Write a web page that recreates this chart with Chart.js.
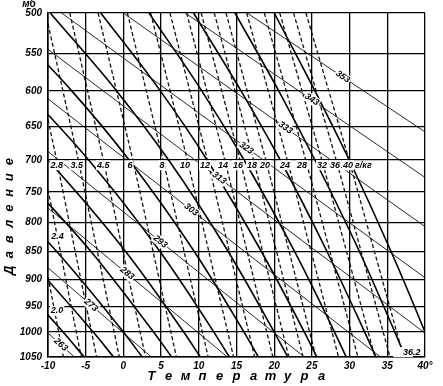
<!DOCTYPE html>
<html>
<head>
<meta charset="utf-8">
<script src="https://cdn.jsdelivr.net/npm/chart.js@4/dist/chart.umd.min.js"></script>
<style>
  html, body { margin: 0; padding: 0; background: #fff; }
  #wrap { width: 443px; height: 386px; }
</style>
</head>
<body>
<div id="wrap"><canvas id="adChart" width="443" height="386"></canvas></div>
<script>
    // axis ticks
    const tempTicks = [-10, -5, 0, 5, 10, 15, 20, 25, 30, 35, 40];
    const pressureTicks = [500, 550, 600, 650, 700, 750, 800, 850, 900, 950, 1000, 1050];

    // dry adiabats (K): end points
    const dryTheta = [263, 273, 283, 293, 303, 313, 323, 333, 343, 353];
    const dryT = [[-10, -6.5], [-10, 3.7], [-10, 13.8], [-10, 24.0], [-10, 34.1],
                  [-10, 40], [-8.2, 40], [0, 40], [8.2, 40], [16.4, 40]];
    const dryP = [[1002, 1050], [879, 1050], [776, 1050], [687, 1050], [611, 1050],
                  [545, 1002], [500, 897], [500, 807], [500, 727], [500, 658]];
    const dryLabelT = [-8.3, -4.3, 0.5, 4.9, 9.0, 12.7, 16.3, 21.5, 25.0, 29.1];
    const dryLabelP = [1025, 948, 889, 833, 779, 728, 682, 652, 612, 581];

    // moist adiabats: temperature at each level of moistP
    const moistP = [1050, 1000, 850, 700, 600, 500];
    const moistT = [
        [-5.2, -8, -17.6],
        [-1.3, -4, -13.4],
        [2.5, 0, -8.85, -20.4],
        [6.4, 4, -4.3, -15.3],
        [10.2, 8, 0.3, -10.0, -18.8],
        [14.05, 12, 4.85, -4.6, -12.9],
        [17.9, 16, 9.4, 0.75, -6.85, -16.7],
        [21.8, 20, 13.9, 6.0, -0.9, -9.7],
        [25.65, 24, 18.3, 11.1, 4.9, -3.0],
        [29.55, 28, 22.7, 16.0, 10.4, 3.4],
        [33.5, 32, 27.0, 20.8, 15.6, 9.3],
        [37.4, 36, 31.3, 25.4, 20.6, 14.8],
        [41.3, 40, 35.5, 29.95, 25.4, 20.0]
    ];

    // saturation mixing ratio lines (g/kg)
    const mixR = ['2.0', '2.4', '2.8', '3.5', '4.5', '6', '8', '10', '12', '14',
                  '16', '18', '20', '24', '28', '32', '36', '40'];
    const mixT = [
        [-10, -7.95], [-10, -5.59], [-10, -8.86, -3.55], [-10, -5.98, -0.54],
        [-7.11, -2.66, 2.93], [-3.35, 1.25, 7.03], [0.53, 5.27, 11.24], [3.61, 8.48, 14.61],
        [6.18, 11.15, 17.41], [8.39, 13.45, 19.82], [10.32, 15.46, 21.94], [12.05, 17.26, 23.83],
        [13.61, 18.89, 25.54], [16.35, 21.74, 28.53], [18.69, 24.18, 31.1], [20.74, 26.32, 33.36],
        [22.57, 28.22, 35.36], [24.21, 29.93, 37.17]
    ];
    const mixP = [
        [895, 1050], [746, 1050], [640, 700, 1050], [513, 700, 1050],
        [500, 700, 1050], [500, 700, 1050], [500, 700, 1050], [500, 700, 1050],
        [500, 700, 1050], [500, 700, 1050], [500, 700, 1050], [500, 700, 1050],
        [500, 700, 1050], [500, 700, 1050], [500, 700, 1050], [500, 700, 1050],
        [500, 700, 1050], [500, 700, 1050]
    ];
    const mixLabelT = [-8.8, -8.74, -8.85, -6.2, -2.67, 0.88, 5.12, 8.17, 10.82, 13.2,
                       15.2, 17.06, 18.78, 21.43, 23.69, 26.34, 28.06, 29.79];
    const mixLabelP = [959, 824, 708, 708, 708, 708, 708, 708, 708, 708,
                       708, 708, 708, 708, 708, 708, 708, 708];

    const FONT = '"Liberation Sans", Arial, sans-serif';

    // pressure axis of the diagram: linear in p^0.286
    const K = 0.286;
    const Base = Chart.LinearScale;
    class StuveScale extends Base {
        getPixelForValue(v) {
            const a = Math.pow(this.min, K), b = Math.pow(this.max, K);
            return this.getPixelForDecimal((Math.pow(v, K) - a) / (b - a));
        }
        getValueForPixel(px) {
            const a = Math.pow(this.min, K), b = Math.pow(this.max, K);
            return Math.pow(a + this.getDecimalForPixel(px) * (b - a), 1 / K);
        }
    }
    StuveScale.id = 'stuve';
    StuveScale.defaults = {};
    Chart.register(StuveScale);

    const datasets = [];
    mixT.forEach((ts, i) => {
        datasets.push({
            data: ts.map((t, j) => ({ x: t, y: mixP[i][j] })),
            showLine: true, borderColor: '#111', borderWidth: 1.3,
            borderDash: [4, 2.5], tension: 0
        });
    });
    dryT.forEach((ts, i) => {
        datasets.push({
            data: ts.map((t, j) => ({ x: t, y: dryP[i][j] })),
            showLine: true, borderColor: '#111', borderWidth: 0.9, tension: 0
        });
    });
    moistT.forEach(ts => {
        datasets.push({
            data: ts.map((t, j) => ({ x: t, y: moistP[j] })),
            showLine: true, borderColor: '#000', borderWidth: 1.6,
            cubicInterpolationMode: 'monotone'
        });
    });

    function labelBox(ctx, text, x, y, angle) {
        ctx.save();
        ctx.translate(x, y);
        ctx.rotate(angle);
        const w = ctx.measureText(text).width;
        ctx.fillStyle = '#fff';
        ctx.fillRect(-w / 2 - 1, -5, w + 2, 10);
        ctx.fillStyle = '#000';
        ctx.fillText(text, 0, 0);
        ctx.restore();
    }

    const textPlugin = {
        id: 'diagramTexts',
        afterDatasetsDraw(chart) {
            const { ctx, scales: { x, y } } = chart;
            ctx.save();
            ctx.textAlign = 'center';
            ctx.textBaseline = 'middle';
            ctx.font = 'italic bold 9px ' + FONT;
            dryTheta.forEach((th, i) => {
                const x0 = x.getPixelForValue(dryT[i][0]), y0 = y.getPixelForValue(dryP[i][0]);
                const x1 = x.getPixelForValue(dryT[i][1]), y1 = y.getPixelForValue(dryP[i][1]);
                labelBox(ctx, String(th), x.getPixelForValue(dryLabelT[i]),
                    y.getPixelForValue(dryLabelP[i]), Math.atan2(y1 - y0, x1 - x0));
            });
            mixR.forEach((r, i) => {
                labelBox(ctx, r, x.getPixelForValue(mixLabelT[i]), y.getPixelForValue(mixLabelP[i]), 0);
            });
            ctx.textAlign = 'left';
            ctx.fillText('г/кг', x.getPixelForValue(29.79) + 7, y.getPixelForValue(708));
            labelBox(ctx, '36.2', x.getPixelForValue(37.08), y.getPixelForValue(1040), 0);
            ctx.restore();
        },
        afterDraw(chart) {
            const { ctx, chartArea } = chart;
            ctx.save();
            ctx.fillStyle = '#000';
            ctx.textAlign = 'center';
            ctx.textBaseline = 'middle';
            ctx.font = 'italic bold 10px ' + FONT;
            ctx.fillText('мб', 29, 4);
            ctx.font = 'italic bold 13px ' + FONT;
            const xt = 'Температура';
            const cx = (chartArea.left + chartArea.right) / 2;
            for (let i = 0; i < xt.length; i++) {
                ctx.fillText(xt[i], cx + (i - (xt.length - 1) / 2) * 17, 376);
            }
            const yt = 'Давление';
            ctx.translate(9, 216);
            ctx.rotate(-Math.PI / 2);
            for (let i = 0; i < yt.length; i++) {
                ctx.fillText(yt[i], (i - (yt.length - 1) / 2) * 15.5, 0);
            }
            ctx.restore();
        }
    };

    const tickFont = { family: FONT, size: 10, style: 'italic', weight: 'bold' };

    new Chart(document.getElementById('adChart'), {
        type: 'scatter',
        data: { datasets: datasets },
        options: {
            responsive: false,
            animation: false,
            events: [],
            layout: { padding: { top: 13, right: 18, left: 0, bottom: 0 } },
            elements: { point: { radius: 0 } },
            plugins: { legend: { display: false }, tooltip: { enabled: false } },
            scales: {
                x: {
                    type: 'linear', min: -10, max: 40,
                    afterBuildTicks: s => { s.ticks = tempTicks.map(v => ({ value: v })); },
                    afterFit: s => { s.height = 29; },
                    grid: { color: '#000', lineWidth: 1.3, drawTicks: false },
                    border: { color: '#000', width: 1.6 },
                    ticks: {
                        color: '#000', font: tickFont, padding: 3, maxRotation: 0, autoSkip: false,
                        callback: v => (v === 40 ? '40°' : String(v))
                    }
                },
                y: {
                    type: 'stuve', reverse: true, min: 500, max: 1050,
                    afterBuildTicks: s => { s.ticks = pressureTicks.map(v => ({ value: v })); },
                    afterFit: s => { s.width = 48; },
                    grid: { color: '#000', lineWidth: 1.3, drawTicks: false },
                    border: { color: '#000', width: 1.6 },
                    ticks: { color: '#000', font: tickFont, padding: 6, autoSkip: false,
                             callback: v => String(v) }
                }
            }
        },
        plugins: [textPlugin]
    });
</script>
</body>
</html>
